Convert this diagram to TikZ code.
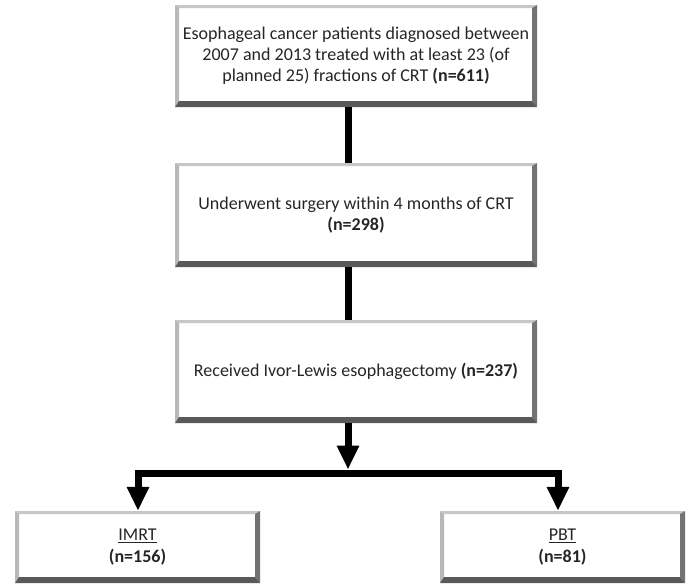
\documentclass[tikz,border=0pt]{standalone}
\usepackage{fontspec}
\setmainfont{Carlito}
\usetikzlibrary{arrows.meta,calc}
\begin{document}
\begin{tikzpicture}[x=1pt,y=-1pt,
  bevelbox/.style={fill=white, inner sep=0pt, align=center, text=black!85,
    font=\fontsize{18}{21}\selectfont,
    path picture={
      \coordinate (pnw) at (path picture bounding box.north west);
      \coordinate (pne) at (path picture bounding box.north east);
      \coordinate (psw) at (path picture bounding box.south west);
      \coordinate (pse) at (path picture bounding box.south east);
      \fill[black!22] (pnw) -- (pne) -- ($(pne)+(-5pt,-3pt)$) -- ($(pnw)+(4pt,-3pt)$) -- cycle;
      \fill[black!28] (pnw) -- ($(pnw)+(4pt,-3pt)$) -- ($(psw)+(4pt,6pt)$) -- (psw) -- cycle;
      \fill[black!55] (pne) -- (pse) -- ($(pse)+(-5pt,6pt)$) -- ($(pne)+(-5pt,-3pt)$) -- cycle;
      \fill[black!65] (psw) -- (pse) -- ($(pse)+(-5pt,6pt)$) -- ($(psw)+(4pt,6pt)$) -- cycle;
    }},
  conn/.style={line width=7pt, black},
  arr/.style={conn, -{Triangle[length=24pt,width=21pt]}}
]
\useasboundingbox[fill=white] (0,0) rectangle (688,584);

\node[bevelbox, minimum width=362pt, minimum height=102pt] (b1) at (356,56)
  {Esophageal cancer patients diagnosed between\\2007 and 2013 treated with at least 23 (of\\planned 25) fractions of CRT \textbf{(n=611)}};
\node[bevelbox, minimum width=362pt, minimum height=104pt] (b2) at (356,215)
  {Underwent surgery within 4 months of CRT\\\textbf{(n=298)}};
\node[bevelbox, minimum width=362pt, minimum height=103pt] (b3) at (356,371.5)
  {Received Ivor-Lewis esophagectomy \textbf{(n=237)}};
\node[bevelbox, minimum width=245pt, minimum height=72pt, font=\fontsize{18}{22}\selectfont] (imrt) at (137.5,547)
  {\underline{IMRT}\\\textbf{(n=156)}};
\node[bevelbox, minimum width=245pt, minimum height=72pt, font=\fontsize{18}{22}\selectfont] (pbt) at (562.5,547)
  {\underline{PBT}\\\textbf{(n=81)}};

\coordinate (cx) at (348,0);
\coordinate (bar) at (348,473);
\coordinate (barL) at (134.5,473);
\coordinate (barR) at (561.5,473);
\coordinate (lx) at (138,0);
\coordinate (rx) at (558,0);

\draw[conn] (b1.south -| cx) -- (b2.north -| cx);
\draw[conn] (b2.south -| cx) -- (b3.north -| cx);
\draw[arr] (b3.south -| cx) -- ([yshift=3.5pt]bar);
\draw[conn] (barL) -- (barR);
\draw[arr] ([yshift=3.5pt]barL -| lx) -- (imrt.north -| lx);
\draw[arr] ([yshift=3.5pt]barR -| rx) -- (pbt.north -| rx);
\end{tikzpicture}
\end{document}
